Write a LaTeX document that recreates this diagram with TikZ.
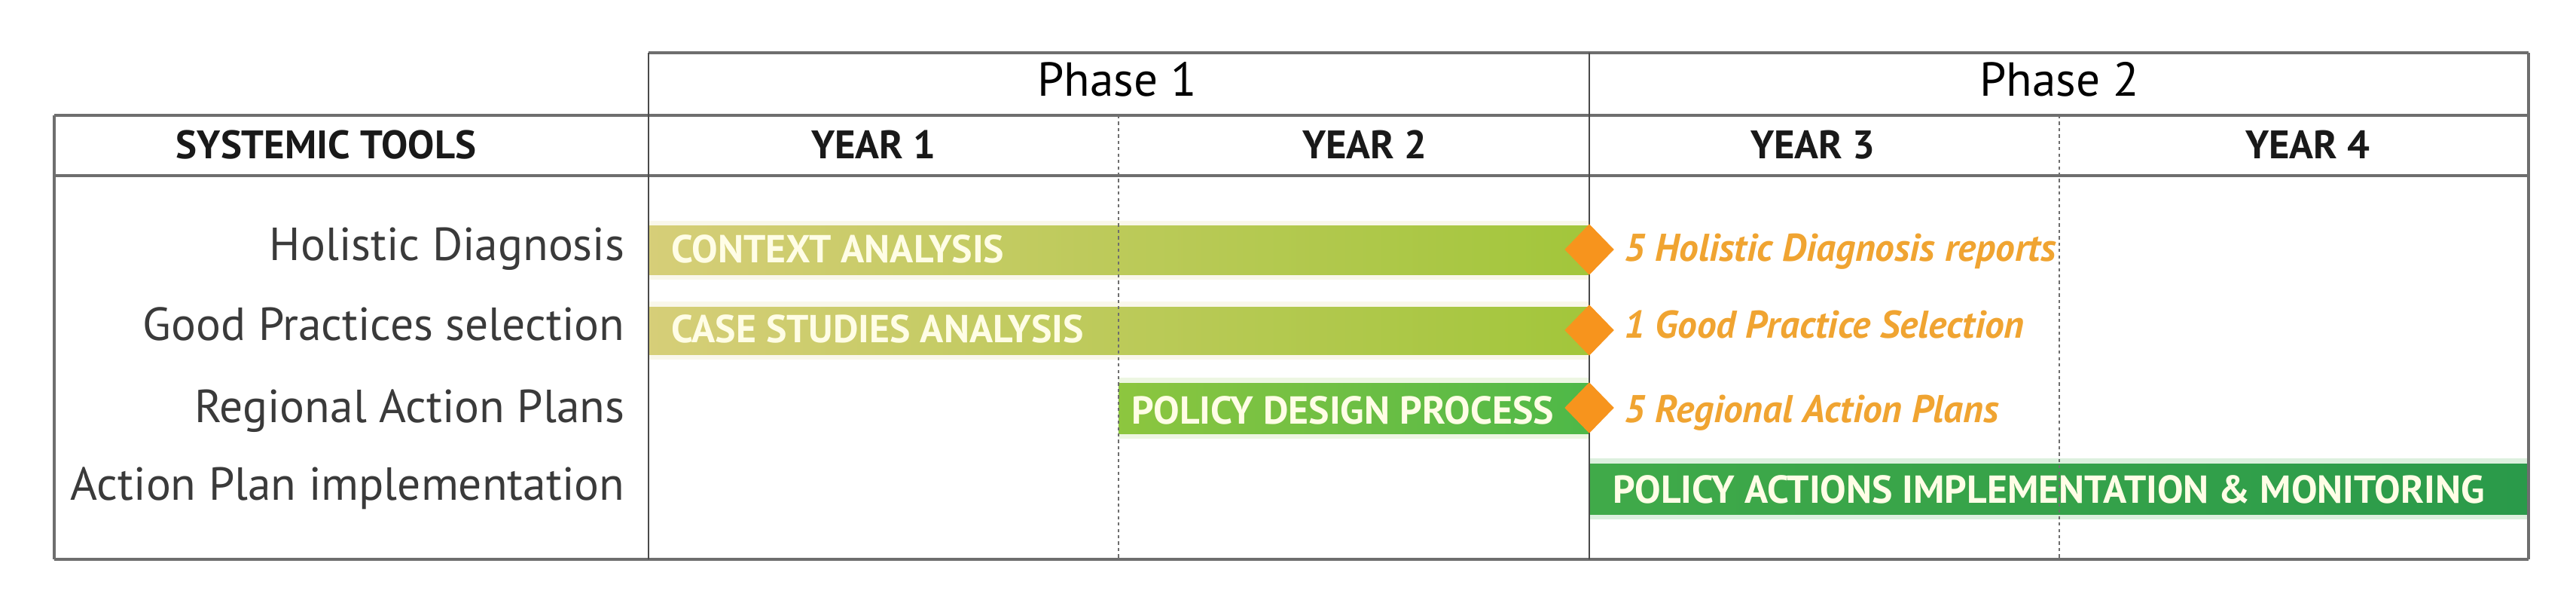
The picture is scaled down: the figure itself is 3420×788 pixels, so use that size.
\documentclass[tikz,border=0pt]{standalone}
\usepackage{fontspec}
\setmainfont{PT Sans}
\usetikzlibrary{shapes.geometric}
\definecolor{linegray}{HTML}{6E6E6E}
\definecolor{vgray}{HTML}{4A4A4A}
\definecolor{khaki}{HTML}{D6CE78}
\definecolor{midgreen}{HTML}{BCCB58}
\definecolor{ygreen}{HTML}{A2C63B}
\definecolor{pdleft}{HTML}{8DC63F}
\definecolor{pdright}{HTML}{4DB848}
\definecolor{paleft}{HTML}{40AA49}
\definecolor{paright}{HTML}{2A9A4A}
\definecolor{mileorange}{HTML}{F7941D}
\definecolor{miletext}{HTML}{F0A431}
\definecolor{bartext}{HTML}{FFFDE6}
\definecolor{labgray}{HTML}{3A3A3A}
\tikzset{
  hline/.style={draw=linegray, line width=1.2pt},
  vline/.style={draw=vgray, line width=0.8pt},
  dline/.style={draw=linegray, line width=0.5pt, dash pattern=on 1.2pt off 1.2pt},
  halo/.style={fill=#1, opacity=0.6},
  phasetext/.style={font=\fontsize{18}{20}\selectfont, text=black, inner sep=0pt},
  yeartext/.style={font=\fontsize{15}{17}\selectfont\bfseries, text=black!90, inner sep=0pt},
  rowlab/.style={font=\fontsize{17.5}{20}\selectfont, text=labgray, inner sep=0pt, anchor=base east},
  barlab/.style={font=\fontsize{14.7}{17}\selectfont\bfseries, text=bartext, inner sep=0pt, anchor=base west},
  miletxt/.style={font=\fontsize{14.6}{17}\selectfont\bfseries\itshape, text=miletext, inner sep=0pt, anchor=base west},
  milestone/.style={diamond, fill=mileorange, inner sep=0pt, minimum width=0.66cm, minimum height=0.68cm},
}
\begin{document}
\begin{tikzpicture}[x=0.01cm,y=-0.01cm]
\useasboundingbox (0,0) rectangle (3420,788);
\fill[white] (0,0) rectangle (3420,788);

% bar halos
\fill[halo={khaki!25}] (861,293) rectangle (2110,371);
\fill[halo={khaki!25}] (861,400) rectangle (2110,477);
\fill[halo={pdleft!25}] (1485,501) rectangle (2110,582);
\fill[halo={paleft!30}] (2110,608) rectangle (3357,689);

% bars
\shade[left color=khaki, middle color=midgreen, right color=ygreen] (861,300) rectangle (2110,364);
\shade[left color=khaki, middle color=midgreen, right color=ygreen] (861,407) rectangle (2110,470);
\shade[left color=pdleft, right color=pdright] (1485,508) rectangle (2110,575);
\shade[left color=paleft, right color=paright] (2110,615) rectangle (3357,682);

% table lines
\draw[hline] (861,70) -- (3357,70);
\draw[hline] (72,153) -- (3357,153);
\draw[hline] (72,233) -- (3357,233);
\draw[hline] (72,742) -- (3357,742);
\draw[hline] (72,153) -- (72,742);
\draw[hline] (3357,70) -- (3357,742);
\draw[vline] (861,70) -- (861,742);
\draw[vline] (2110,70) -- (2110,742);
\draw[dline] (1485,153) -- (1485,742);
\draw[dline] (2734,153) -- (2734,742);

% header texts
\node[phasetext, anchor=base] (ph1) at (1483,128) {Phase 1};
\node[phasetext, anchor=base] (ph2) at (2734,128) {Phase 2};
\node[yeartext, anchor=base] (tools) at (433,211) {SYSTEMIC TOOLS};
\node[yeartext, anchor=base] (y1) at (1160,211) {YEAR 1};
\node[yeartext, anchor=base] (y2) at (1812,211) {YEAR 2};
\node[yeartext, anchor=base] (y3) at (2407,211) {YEAR 3};
\node[yeartext, anchor=base] (y4) at (3064,211) {YEAR 4};

% row labels
\node[rowlab] (r1) at (830,345) {Holistic Diagnosis};
\node[rowlab] (r2) at (830,452) {Good Practices selection};
\node[rowlab] (r3) at (830,560) {Regional Action Plans};
\node[rowlab] (r4) at (830,663) {Action Plan implementation};

% bar labels
\node[barlab] (b1) at (891,348) {CONTEXT ANALYSIS};
\node[barlab] (b2) at (891,455) {CASE STUDIES ANALYSIS};
\node[barlab] (b3) at (1502,562) {POLICY DESIGN PROCESS};
\node[barlab] (b4) at (2141,667) {POLICY ACTIONS IMPLEMENTATION \& MONITORING};

% milestones
\node[milestone] (m1) at (2110,331) {};
\node[milestone] (m2) at (2110,438) {};
\node[milestone] (m3) at (2110,541) {};
\node[miletxt] (mt1) at (2156,347) {5 Holistic Diagnosis reports};
\node[miletxt] (mt2) at (2156,448) {1 Good Practice Selection};
\node[miletxt] (mt3) at (2156,560) {5 Regional Action Plans};
\end{tikzpicture}
\end{document}
